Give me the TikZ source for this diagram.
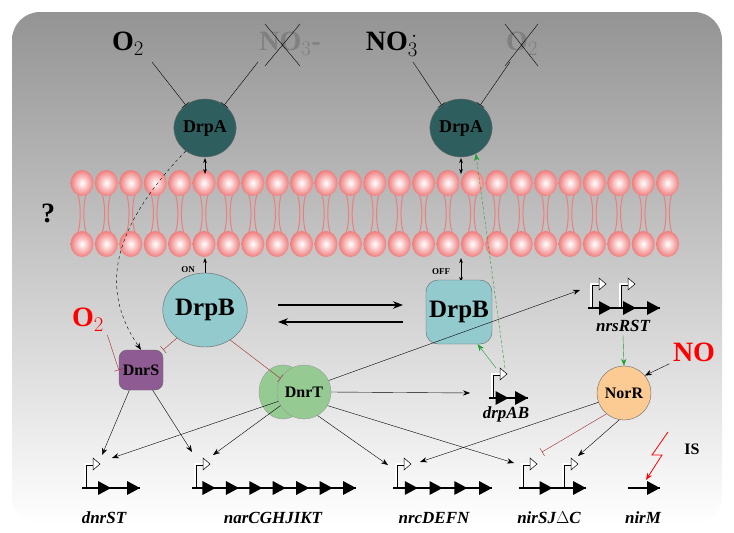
\documentclass[tikz,border=0pt]{standalone}
\usepackage{fontspec}
\setmainfont{Liberation Serif}
\usetikzlibrary{arrows.meta,shapes.geometric}
\definecolor{drpa}{HTML}{2E5F5E}
\definecolor{drpb}{HTML}{92CACD}
\definecolor{dnrs}{HTML}{8E5C93}
\definecolor{dnrt}{HTML}{95CB93}
\definecolor{norr}{HTML}{FCCB94}
\definecolor{lipid}{HTML}{F07C7C}
\definecolor{inh}{HTML}{A02828}
\definecolor{act}{HTML}{1BA033}
\newcommand{\promoter}[2]{%
  \draw[line width=3pt] (#1,#2) -- ++(0,-24) -- ++(9,0);
  \draw[line width=1.4pt,white] (#1,#2-1) -- ++(0,-23) -- ++(9,0);
  \fill[white,draw=black,line width=0.5pt] (#1+8,#2-30) -- ++(7,6) -- ++(-7,6) -- cycle;}
\newcommand{\genes}[4]{% x1, x2, number of arrows, y
  \draw[line width=1.8pt] (#1,#4) -- (#2,#4);
  \foreach \k in {1,...,#3}
    \fill ({#1+(#2-#1)*\k/#3},#4) -- ++(-13,7) -- ++(0,-14) -- cycle;}
\begin{document}
\begin{tikzpicture}[x=1pt,y=-1pt,
  lbl/.style={font=\bfseries\fontsize{28}{30}\selectfont},
  glbl/.style={font=\bfseries\itshape\fontsize{17}{19}\selectfont},
  prot/.style={draw=black!60,font=\bfseries\fontsize{18}{20}\selectfont,inner sep=0pt},
  act/.style={-{Stealth[length=7pt]},thin},
  inhib/.style={-{Bar[width=9pt]},thin},
  rev/.style={{Stealth[length=5pt]}-{Stealth[length=5pt]},thick}]
\useasboundingbox (0,0) rectangle (734,533);
\shade[top color=black!42,bottom color=white,rounded corners=28pt] (12,12) rectangle (722,525);

% membrane
\foreach \i in {0,...,24}{
  \pgfmathsetmacro{\xx}{82+24.4*\i}
  \draw[lipid,line width=1pt] (\xx-4,195) .. controls (\xx-1,205) and (\xx-1,222) .. (\xx-4,232);
  \draw[lipid,line width=1pt] (\xx+4,195) .. controls (\xx+1,205) and (\xx+1,222) .. (\xx+4,232);
  \shade[inner color=white,outer color=lipid] (\xx,183) ellipse (11.5 and 13);
  \shade[inner color=white,outer color=lipid] (\xx,244) ellipse (11.5 and 13);
}
\node[lbl] (q) at (48,213) {?};

% sensors
\node[prot,ellipse,fill=drpa,minimum width=62pt,minimum height=58pt] (drpaL) at (205,128) {DrpA};
\node[prot,ellipse,fill=drpa,minimum width=62pt,minimum height=58pt] (drpaR) at (461,128) {DrpA};
\node[lbl] (o2a) at (128,44) {O$_2$};
\node[lbl,black!50] (no3a) at (290,44) {NO$_3$-};
\draw (265,24) -- (300,66) (300,24) -- (265,66);
\node[lbl] (no3b) at (392,44) {NO$_3^{\,\cdot}$};
\node[lbl,black!50] (o2b) at (522,44) {O$_2$};
\draw (505,24) -- (538,66) (538,24) -- (505,66);
\draw[inhib] (152,62) -- (drpaL.130);
\draw[inhib] (258,62) -- (drpaL.50);
\draw[inhib] (413,62) -- (drpaR.130);
\draw[inhib] (510,62) -- (drpaR.50);
\draw[rev] (205,158) -- (205,174);
\draw[rev] (461,158) -- (461,174);
\draw[rev] (205,258) -- (205,282);
\draw[rev] (461,258) -- (461,282);
\node[font=\bfseries\small] (on) at (188,270) {ON};
\node[font=\bfseries\small] (off) at (441,272) {OFF};

% response regulators
\node[prot,ellipse,fill=drpb,minimum width=64pt,minimum height=74pt,font=\bfseries\fontsize{25}{27}\selectfont] (drpbL) at (205,310) {DrpB};
\node[prot,rectangle,rounded corners=12pt,fill=drpb,minimum width=66pt,minimum height=64pt,font=\bfseries\fontsize{25}{27}\selectfont] (drpbR) at (459,312) {DrpB};
\draw[-{Stealth[length=10pt]},line width=1.3pt] (278,305) -- (403,305);
\draw[-{Stealth[length=10pt]},line width=1.3pt] (403,322) -- (278,322);
\node[prot,rectangle,rounded corners=8pt,fill=dnrs,minimum width=44pt,minimum height=40pt,font=\bfseries\fontsize{16}{18}\selectfont] (dnrs) at (141,370) {DnrS};
\fill[dnrt,draw=black!40] (283,392) ellipse (24 and 27);
\node[prot,ellipse,fill=dnrt,draw=black!40,minimum width=48pt,minimum height=54pt,font=\bfseries\fontsize{16}{18}\selectfont] (dnrt) at (304,392) {DnrT};
\node[prot,ellipse,fill=norr,minimum width=50pt,minimum height=54pt,font=\bfseries\fontsize{16}{18}\selectfont] (norr) at (624,393) {NorR};
\node[lbl,red] (o2c) at (88,320) {O$_2$};
\node[lbl,red] (no) at (694,352) {NO};
\node[font=\bfseries\fontsize{16}{18}\selectfont] (is) at (692,449) {IS};

% genes
\promoter{85}{488}\genes{82}{140}{2}{488}
\promoter{195}{488}\genes{192}{356}{7}{488}
\promoter{396}{488}\genes{393}{492}{4}{488}
\promoter{522}{488}\promoter{563}{488}\genes{519}{586}{2}{488}
\genes{628}{660}{1}{488}
\promoter{492}{398}\genes{489}{528}{2}{398}
\promoter{591}{308}\promoter{620}{308}\genes{588}{660}{3}{308}
\node[glbl] (dnrst) at (104,518) {dnrST};
\node[glbl] (nar) at (273,518) {narCGHJIKT};
\node[glbl] (nrc) at (434,518) {nrcDEFN};
\node[glbl] (nir) at (549,518) {nirSJ$\Delta$C};
\node[glbl] (nirm) at (643,518) {nirM};
\node[glbl] (drpab) at (506,414) {drpAB};
\node[glbl] (nrs) at (623,326) {nrsRST};
\coordinate (pDnr) at (112,458);
\coordinate (pNar) at (213,455);
\coordinate (pNrc) at (420,462);
\coordinate (pNir) at (542,452);
\coordinate (pNir2) at (578,456);
\coordinate (pDrp) at (470,393);
\coordinate (pNrs) at (580,290);
\coordinate (tDrp) at (496,368);

% regulation
\draw[act,dashed] (drpaL.230) .. controls (110,230) and (100,290) .. (dnrs.north);
\draw[inhib,inh] (o2c.south east) -- (dnrs.west);
\draw[inhib,inh] (drpbL.225) -- (dnrs.north east);
\draw[inhib,inh] (drpbL.310) -- (dnrt.150);
\draw[act] (dnrs.240) -- (102,455);
\draw[act] (dnrs.300) -- (192,452);
\draw[act] (dnrt.200) -- (pDnr);
\draw[act] (dnrt.210) -- (pNar);
\draw[act] (dnrt.300) -- (388,465);
\draw[act] (dnrt.330) -- (514,463);
\draw[act] (dnrt.east) -- (pDrp);
\draw[act] (dnrt.25) -- (pNrs);
\draw[act] (norr.200) -- (pNrc);
\draw[inhib,inh] (norr.230) -- (pNir);
\draw[act] (norr.260) -- (pNir2);
\draw[act] (no) -- (norr.40);
\draw[act,draw=act] (nrs.south) -- (norr.north);
\draw[act,draw=act] (tDrp) -- (drpbR.300);
\draw[act,draw=act,densely dashed] (505,368) -- (drpaR.300);
\draw[red,thick,-{Stealth[length=7pt]}] (668,432) -- (652,455) -- (662,455) -- (646,480);
\end{tikzpicture}
\end{document}
